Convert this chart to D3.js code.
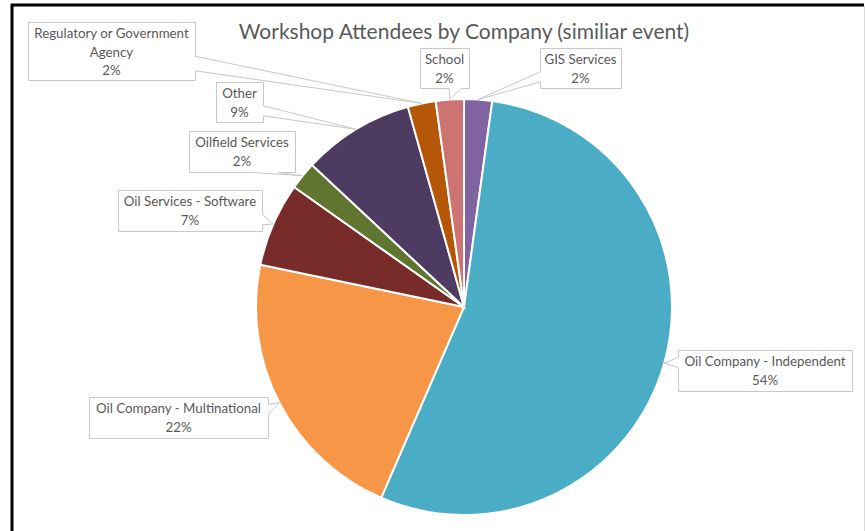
<!DOCTYPE html>
<html>
<head>
<meta charset="utf-8">
<script src="https://cdn.jsdelivr.net/npm/d3@7"></script>
<style>
  html, body { margin: 0; padding: 0; background: #fff; }
  svg { display: block; }
  text { font-family: Lato, "Open Sans", sans-serif; fill: #595959; }
</style>
</head>
<body>
<div id="chart"></div>
<script>
// attendee counts per company type (alphabetical, as in the sheet)
var categories = ["GIS Services", "Oil Company - Independent", "Oil Company - Multinational",
  "Oil Services - Software", "Oilfield Services", "Other", "Regulatory or Government Agency", "School"];
var counts = [1, 25, 10, 3, 1, 4, 1, 1];
var colors = ["#8064a2", "#4bacc6", "#f79646", "#772c2a", "#5f7530", "#4d3b62", "#b65708", "#cd7371"];
var labelLines = [["GIS Services"], ["Oil Company - Independent"], ["Oil Company - Multinational"],
  ["Oil Services - Software"], ["Oilfield Services"], ["Other"], ["Regulatory or Government", "Agency"], ["School"]];
var title = "Workshop Attendees by Company (similiar event)";

var w = 865, h = 531,
    cx = 464, cy = 307, r = 208;

// callout boxes [x, y, width, height]
var boxes = [[540, 48, 81, 40], [678, 350, 174, 41], [89, 397, 179, 41], [118, 190, 144, 41],
  [189, 131, 106, 41], [216, 82, 47, 40], [28, 22, 167, 58], [420, 48, 49, 40]];

var svg = d3.select("#chart").append("svg")
  .attr("width", w)
  .attr("height", h)

// frame
svg.append("line").attr("x1", 12).attr("x2", 12).attr("y1", 4).attr("y2", h)
  .style("stroke", "#000").style("stroke-width", 3)
svg.append("line").attr("x1", 11).attr("x2", 864).attr("y1", 5).attr("y2", 5)
  .style("stroke", "#000").style("stroke-width", 3)
svg.append("line").attr("x1", 864.5).attr("x2", 864.5).attr("y1", 6).attr("y2", h)
  .style("stroke", "#d9d9d9").style("stroke-width", 1)

svg.append("text")
  .attr("x", cx)
  .attr("y", 39)
  .style("text-anchor", "middle")
  .style("font-size", "21px")
  .text(title)

var total = d3.sum(counts);
var pct = d3.format(".0%");

var pie = d3.pie().sort(null).value(function(d){ return d });
var arcs = pie(counts);
var arc = d3.arc().innerRadius(0).outerRadius(r);

var g = svg.append("g").attr("transform", "translate(" + cx + "," + cy + ")")
g.selectAll("path")
  .data(arcs)
  .enter()
    .append("path")
      .attr("d", arc)
      .style("fill", function(d, i){ return colors[i] })
      .style("stroke", "#fff")
      .style("stroke-width", 2)

// wedge-shaped callout (like excel's wedgeRectCallout)
function callout(x0, y0, bw, bh, tx, ty) {
  var dx = tx - (x0 + bw / 2), dy = ty - (y0 + bh / 2);
  var dz = Math.abs(dy) - Math.abs(dx * bh / bw);
  var x1 = x0 + bw, y1 = y0 + bh;
  if (dz <= 0) {
    var ya = y0 + bh * (dy > 0 ? 7 : 2) / 12, yb = y0 + bh * (dy > 0 ? 10 : 5) / 12;
    if (dx > 0) return "M" + x0 + "," + y0 + "H" + x1 + "V" + ya + "L" + tx + "," + ty + "L" + x1 + "," + yb + "V" + y1 + "H" + x0 + "Z";
    return "M" + x0 + "," + y0 + "H" + x1 + "V" + y1 + "H" + x0 + "V" + yb + "L" + tx + "," + ty + "L" + x0 + "," + ya + "Z";
  }
  var xa = x0 + bw * (dx > 0 ? 7 : 2) / 12, xb = x0 + bw * (dx > 0 ? 10 : 5) / 12;
  if (dy > 0) return "M" + x0 + "," + y0 + "H" + x1 + "V" + y1 + "H" + xb + "L" + tx + "," + ty + "L" + xa + "," + y1 + "H" + x0 + "Z";
  return "M" + x0 + "," + y0 + "H" + xa + "L" + tx + "," + ty + "L" + xb + "," + y0 + "H" + x1 + "V" + y1 + "H" + x0 + "Z";
}

arcs.forEach(function(d, i){
  var b = boxes[i];
  var mid = (d.startAngle + d.endAngle) / 2;
  var tx = cx + r * Math.sin(mid), ty = cy - r * Math.cos(mid);
  svg.append("path")
    .attr("d", callout(b[0] + 0.5, b[1] + 0.5, b[2], b[3], tx, ty))
    .style("fill", "#fff")
    .style("stroke", "#c8c8c8")
    .style("stroke-width", 1)
  var lines = labelLines[i].concat([pct(d.value / total)]);
  lines.forEach(function(t, j){
    svg.append("text")
      .attr("x", b[0] + b[2] / 2)
      .attr("y", b[1] + 16 + j * 18.7)
      .style("text-anchor", "middle")
      .style("font-size", "13.3px")
      .text(t)
  })
})
</script>
</body>
</html>
